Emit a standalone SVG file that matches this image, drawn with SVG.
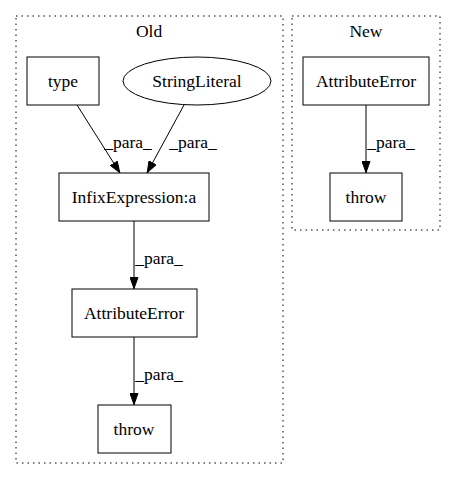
<svg xmlns="http://www.w3.org/2000/svg" width="456" height="480" viewBox="0 0 456 480">
<style>
.cl{fill:none;stroke:#000;stroke-width:1;stroke-dasharray:1.5,4}
.n{fill:none;stroke:#000;stroke-width:1}
.t{font-family:"Liberation Serif","Times New Roman",serif;font-size:17.5px;text-anchor:middle;fill:#000}
.l{font-family:"Liberation Serif","Times New Roman",serif;font-size:17.5px;text-anchor:middle;fill:#000}
.e{fill:none;stroke:#000;stroke-width:1}
</style>
<defs>
<marker id="ah" viewBox="0 0 12 9" refX="12" refY="4.5" markerWidth="12" markerHeight="9" markerUnits="userSpaceOnUse" orient="auto">
<path d="M0.5,0.5 L11.5,4.5 L0.5,8.5 z" fill="#000" stroke="#000"/>
</marker>
</defs>
<rect width="456" height="480" fill="#fff"/>
<g id="cluster_old">
<rect class="cl" x="16" y="16" width="267" height="447"/>
<text class="t" x="149" y="37">Old</text>
</g>
<g id="cluster_new">
<rect class="cl" x="292" y="16" width="148" height="214"/>
<text class="t" x="366" y="37">New</text>
</g>
<g id="type">
<rect class="n" x="27" y="57" width="72" height="48"/>
<text class="t" x="63" y="87">type</text>
</g>
<g id="StringLiteral">
<ellipse class="n" cx="197" cy="81" rx="74" ry="24"/>
<text class="t" x="197" y="87">StringLiteral</text>
</g>
<g id="InfixExpression">
<rect class="n" x="59" y="173" width="150" height="48"/>
<text class="t" x="134" y="203">InfixExpression:a</text>
</g>
<g id="AttributeError_old">
<rect class="n" x="72" y="289" width="125" height="48"/>
<text class="t" x="134" y="319">AttributeError</text>
</g>
<g id="throw_old">
<rect class="n" x="98" y="405" width="73" height="48"/>
<text class="t" x="134" y="435">throw</text>
</g>
<g id="AttributeError_new">
<rect class="n" x="303" y="57" width="126" height="48"/>
<text class="t" x="366" y="87">AttributeError</text>
</g>
<g id="throw_new">
<rect class="n" x="330" y="173" width="72" height="48"/>
<text class="t" x="366" y="203">throw</text>
</g>
<g id="edges">
<path class="e" d="M77,105 L120,173" marker-end="url(#ah)"/>
<text class="l" x="128" y="148">_para_</text>
<path class="e" d="M184,105 L147,173" marker-end="url(#ah)"/>
<text class="l" x="193" y="148">_para_</text>
<path class="e" d="M134,221 L134,289" marker-end="url(#ah)"/>
<text class="l" x="159" y="264">_para_</text>
<path class="e" d="M134,337 L134,405" marker-end="url(#ah)"/>
<text class="l" x="159" y="380">_para_</text>
<path class="e" d="M366,105 L366,173" marker-end="url(#ah)"/>
<text class="l" x="391" y="148">_para_</text>
</g>
</svg>
